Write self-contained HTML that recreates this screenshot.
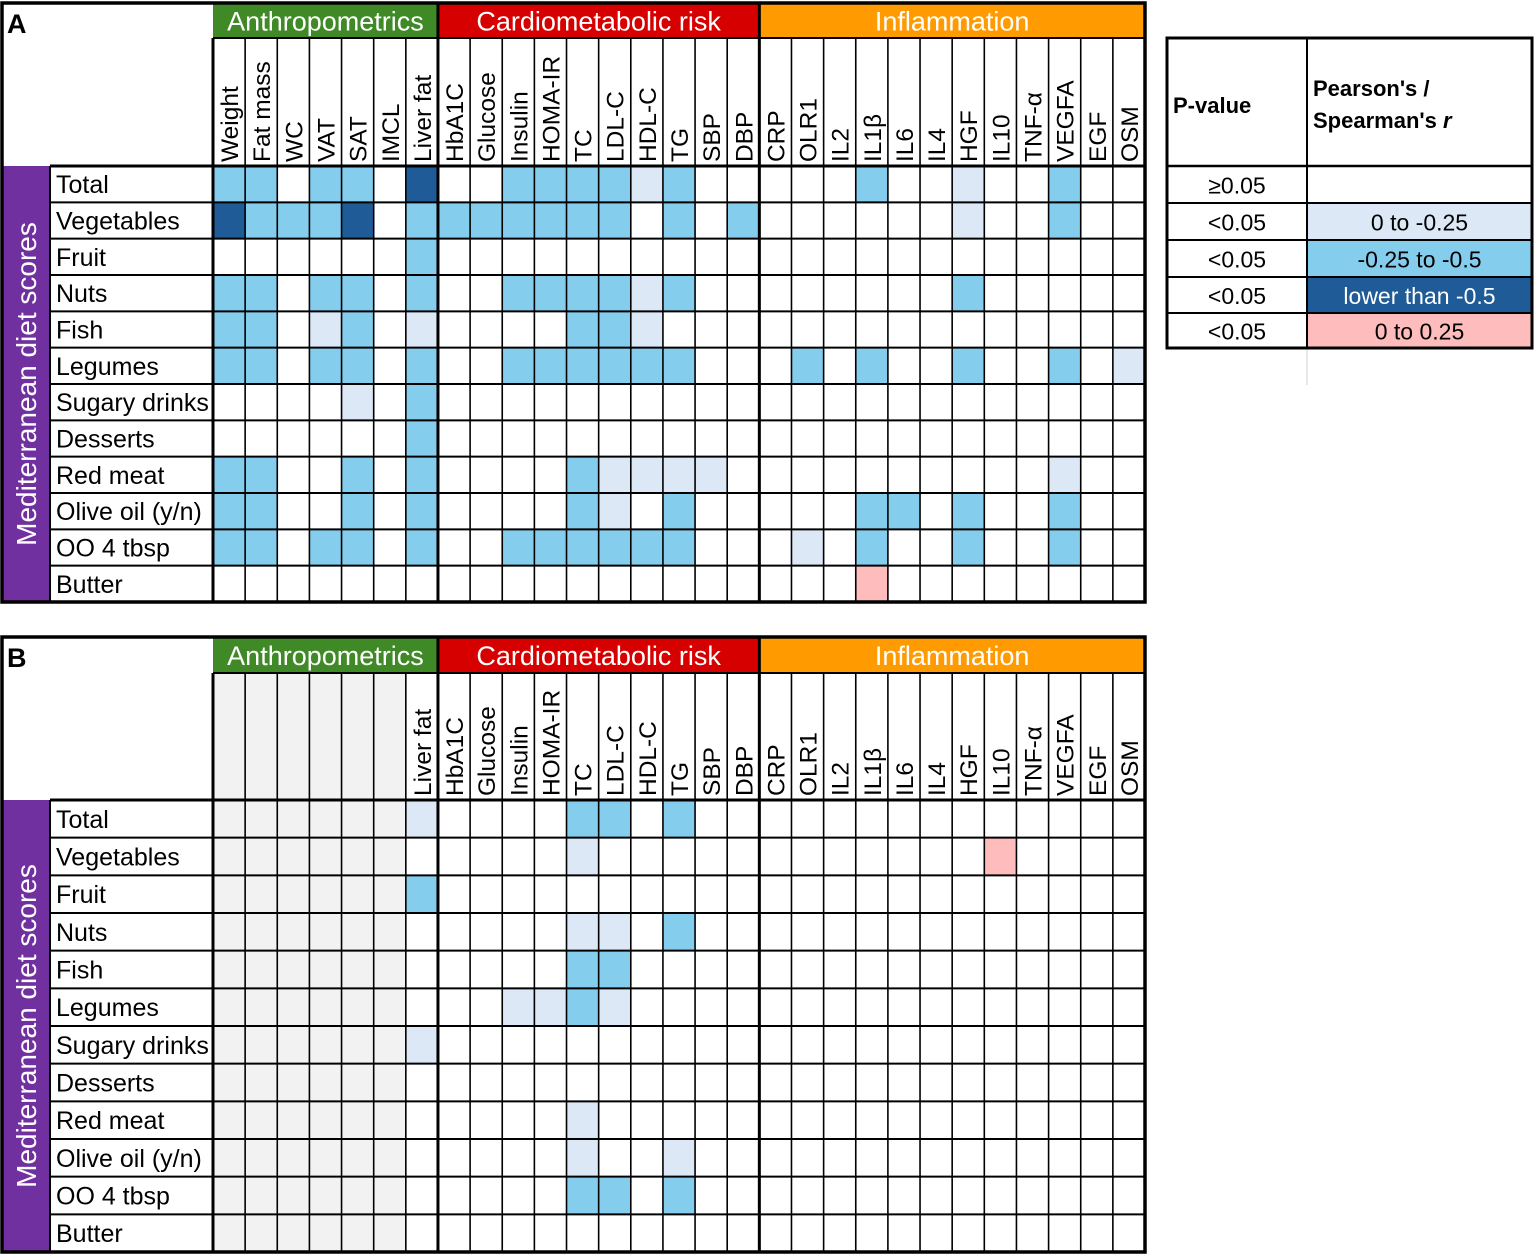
<!DOCTYPE html>
<html><head><meta charset="utf-8">
<style>
html,body{margin:0;padding:0;background:#fff;}
svg{display:block;}
text{font-family:"Liberation Sans",Arial,sans-serif;}
</style></head>
<body>
<svg id="chart" width="1535" height="1254" viewBox="0 0 1535 1254" xmlns="http://www.w3.org/2000/svg"></svg>
<script>
const rowLabels = ["Total","Vegetables","Fruit","Nuts","Fish","Legumes","Sugary drinks","Desserts","Red meat","Olive oil (y/n)","OO 4 tbsp","Butter"];
const colLabels = ["Weight","Fat mass","WC","VAT","SAT","IMCL","Liver fat","HbA1C","Glucose","Insulin","HOMA-IR","TC","LDL-C","HDL-C","TG","SBP","DBP","CRP","OLR1","IL2","IL1β","IL6","IL4","HGF","IL10","TNF-α","VEGFA","EGF","OSM"];
const groups = [["Anthropometrics",0,7,"#3f8a26"],["Cardiometabolic risk",7,17,"#d60000"],["Inflammation",17,29,"#ff9a00"]];
// 0 white, 1 light, 2 medium, 3 dark, 4 pink, 9 n/a (gray)
const panelA = [
 [2,2,0,2,2,0,3, 0,0,2,2,2,2,1,2,0,0, 0,0,0,2,0,0,1,0,0,2,0,0],
 [3,2,2,2,3,0,2, 2,2,2,2,2,2,0,2,0,2, 0,0,0,0,0,0,1,0,0,2,0,0],
 [0,0,0,0,0,0,2, 0,0,0,0,0,0,0,0,0,0, 0,0,0,0,0,0,0,0,0,0,0,0],
 [2,2,0,2,2,0,2, 0,0,2,2,2,2,1,2,0,0, 0,0,0,0,0,0,2,0,0,0,0,0],
 [2,2,0,1,2,0,1, 0,0,0,0,2,2,1,0,0,0, 0,0,0,0,0,0,0,0,0,0,0,0],
 [2,2,0,2,2,0,2, 0,0,2,2,2,2,2,2,0,0, 0,2,0,2,0,0,2,0,0,2,0,1],
 [0,0,0,0,1,0,2, 0,0,0,0,0,0,0,0,0,0, 0,0,0,0,0,0,0,0,0,0,0,0],
 [0,0,0,0,0,0,2, 0,0,0,0,0,0,0,0,0,0, 0,0,0,0,0,0,0,0,0,0,0,0],
 [2,2,0,0,2,0,2, 0,0,0,0,2,1,1,1,1,0, 0,0,0,0,0,0,0,0,0,1,0,0],
 [2,2,0,0,2,0,2, 0,0,0,0,2,1,0,2,0,0, 0,0,0,2,2,0,2,0,0,2,0,0],
 [2,2,0,2,2,0,2, 0,0,2,2,2,2,2,2,0,0, 0,1,0,2,0,0,2,0,0,2,0,0],
 [0,0,0,0,0,0,0, 0,0,0,0,0,0,0,0,0,0, 0,0,0,4,0,0,0,0,0,0,0,0]
];
const panelB = [
 [9,9,9,9,9,9,1, 0,0,0,0,2,2,0,2,0,0, 0,0,0,0,0,0,0,0,0,0,0,0],
 [9,9,9,9,9,9,0, 0,0,0,0,1,0,0,0,0,0, 0,0,0,0,0,0,0,4,0,0,0,0],
 [9,9,9,9,9,9,2, 0,0,0,0,0,0,0,0,0,0, 0,0,0,0,0,0,0,0,0,0,0,0],
 [9,9,9,9,9,9,0, 0,0,0,0,1,1,0,2,0,0, 0,0,0,0,0,0,0,0,0,0,0,0],
 [9,9,9,9,9,9,0, 0,0,0,0,2,2,0,0,0,0, 0,0,0,0,0,0,0,0,0,0,0,0],
 [9,9,9,9,9,9,0, 0,0,1,1,2,1,0,0,0,0, 0,0,0,0,0,0,0,0,0,0,0,0],
 [9,9,9,9,9,9,1, 0,0,0,0,0,0,0,0,0,0, 0,0,0,0,0,0,0,0,0,0,0,0],
 [9,9,9,9,9,9,0, 0,0,0,0,0,0,0,0,0,0, 0,0,0,0,0,0,0,0,0,0,0,0],
 [9,9,9,9,9,9,0, 0,0,0,0,1,0,0,0,0,0, 0,0,0,0,0,0,0,0,0,0,0,0],
 [9,9,9,9,9,9,0, 0,0,0,0,1,0,0,1,0,0, 0,0,0,0,0,0,0,0,0,0,0,0],
 [9,9,9,9,9,9,0, 0,0,0,0,2,2,0,2,0,0, 0,0,0,0,0,0,0,0,0,0,0,0],
 [9,9,9,9,9,9,0, 0,0,0,0,0,0,0,0,0,0, 0,0,0,0,0,0,0,0,0,0,0,0]
];
const legendP = ["≥0.05","<0.05","<0.05","<0.05","<0.05"];
const legendR = ["","0 to -0.25","-0.25 to -0.5","lower than -0.5","0 to 0.25"];
const legendCodes = [0,1,2,3,4];

const palette = {0:"#ffffff",1:"#dce8f6",2:"#85cdec",3:"#1f5b97",4:"#ffbcbc",9:"#f2f2f2"};
const NS="http://www.w3.org/2000/svg";
const svg=document.getElementById('chart');
function mk(tag,attrs,parent){const e=document.createElementNS(NS,tag);for(const k in attrs)e.setAttribute(k,attrs[k]);(parent||svg).appendChild(e);return e;}

function drawPanel(letter,data,top,hdrH,lblH,bottom,showAnthroLabels,pname){
  const g=mk('g',{});
  
  
  const left=2,gx0=213,gx1=1145;
  const colW=(gx1-gx0)/colLabels.length;
  const rowTop=top+hdrH+lblH;
  const rowH=(bottom-rowTop)/rowLabels.length;
  const xOf=i=>gx0+i*colW, yOf=r=>rowTop+r*rowH;
  data.forEach((row,r)=>row.forEach((v,c)=>{
    const rc=mk('rect',{x:xOf(c),y:yOf(r),width:colW,height:rowH,fill:palette[v]},g);
    
    
  }));
  if(!showAnthroLabels){
    mk('rect',{x:gx0,y:top+hdrH,width:colW*6,height:lblH,fill:palette[9]},g);
  }
  groups.forEach(([name,a,b,col])=>{
    const rc=mk('rect',{x:xOf(a),y:top,width:(b-a)*colW,height:hdrH,fill:col},g);
    
    
    const t=mk('text',{x:xOf(a)+(b-a)*colW/2,y:top+hdrH/2+10,'text-anchor':'middle','font-size':27,fill:'#fff'},g);
    t.textContent=name;
  });
  colLabels.forEach((lab,c)=>{
    if(!showAnthroLabels && c<6) return;
    const cx=xOf(c)+colW/2+9, by=top+hdrH+lblH-4;
    const t=mk('text',{x:cx,y:by,'font-size':24.5,fill:'#000',transform:`rotate(-90 ${cx} ${by})`},g);
    
    
    t.textContent=lab;
  });
  const pb=mk('rect',{x:left,y:rowTop,width:48,height:bottom-rowTop,fill:'#7030a0'},g);
  
  
  const mx=left+24+10, my=(rowTop+bottom)/2;
  const mt=mk('text',{x:mx,y:my,'font-size':28,fill:'#fff','text-anchor':'middle',transform:`rotate(-90 ${mx} ${my})`},g);
  
  
  mt.textContent="Mediterranean diet scores";
  rowLabels.forEach((lab,r)=>{
    const t=mk('text',{x:56,y:yOf(r)+rowH/2+9,'font-size':25,fill:'#000'},g);
    
    
    t.textContent=lab;
  });
  for(let c=0;c<=colLabels.length;c++){
    const thick=(c===0||c===7||c===17||c===29);
    mk('line',{x1:xOf(c),y1:top+hdrH,x2:xOf(c),y2:bottom,stroke:'#000','stroke-width':thick?3:1.6},g);
  }
  for(let r=0;r<=rowLabels.length;r++){
    mk('line',{x1:50,y1:yOf(r),x2:gx1,y2:yOf(r),stroke:'#000','stroke-width':(r===0)?3:2},g);
  }
  mk('line',{x1:gx0,y1:top+hdrH,x2:gx1,y2:top+hdrH,stroke:'#000','stroke-width':2},g);
  mk('line',{x1:50,y1:rowTop,x2:50,y2:bottom,stroke:'#000','stroke-width':2},g);
  mk('rect',{x:left,y:top,width:gx1-left,height:bottom-top,fill:'none',stroke:'#000','stroke-width':3.5},g);
  [7,17].forEach(c=>mk('line',{x1:xOf(c),y1:top,x2:xOf(c),y2:top+hdrH,stroke:'#000','stroke-width':3},g));
  const pl=mk('text',{x:7,y:top+30,'font-size':27,'font-weight':'bold',fill:'#000'},g);
  
  
  pl.textContent=letter;
}
drawPanel("A",panelA,3,35,128,602,true,'panel-a');
drawPanel("B",panelB,637,36,127,1252,false,'panel-b');

const lg=mk('g',{});


const L0=1167,L1=1532,LM=1307,LT=38;
const lrows=[166,203,240,277,313,348];
mk('line',{x1:LM,y1:348,x2:LM,y2:385,stroke:'#d0d0d0','stroke-width':1},lg);
legendCodes.forEach((code,i)=>{
  const rc=mk('rect',{x:LM,y:lrows[i],width:L1-LM,height:lrows[i+1]-lrows[i],fill:palette[code]},lg);
  
  
  const t1=mk('text',{x:(L0+LM)/2,y:lrows[i]+(lrows[i+1]-lrows[i])/2+9,'font-size':23,'text-anchor':'middle',fill:'#000'},lg);
  t1.textContent=legendP[i];
  const t2=mk('text',{x:(LM+L1)/2,y:lrows[i]+(lrows[i+1]-lrows[i])/2+9,'font-size':23,'text-anchor':'middle',fill:code===3?'#fff':'#000'},lg);
  t2.textContent=legendR[i];
});
lrows.forEach((y,i)=>mk('line',{x1:L0,y1:y,x2:L1,y2:y,stroke:'#000','stroke-width':i===0?2.5:2},lg));
mk('line',{x1:LM,y1:LT,x2:LM,y2:348,stroke:'#000','stroke-width':2},lg);
mk('rect',{x:L0,y:LT,width:L1-L0,height:348-LT,fill:'none',stroke:'#000','stroke-width':3},lg);
const h1=mk('text',{x:1173,y:113,'font-size':22,'font-weight':'bold',fill:'#000'},lg);h1.textContent="P-value";
const h2=mk('text',{x:1313,y:96,'font-size':22,'font-weight':'bold',fill:'#000'},lg);h2.textContent="Pearson's /";
const h3=mk('text',{x:1313,y:128,'font-size':22,'font-weight':'bold',fill:'#000'},lg);
h3.innerHTML="Spearman's <tspan font-style='italic'>r</tspan>";
</script>
</body></html>
